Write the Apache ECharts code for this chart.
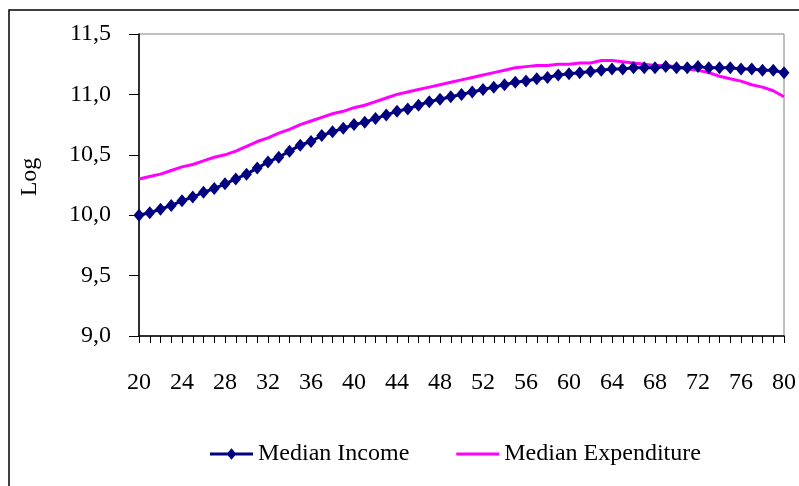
<!DOCTYPE html>
<html>
<head>
<meta charset="utf-8">
<script src="https://cdn.jsdelivr.net/npm/echarts@6/dist/echarts.min.js"></script>
<style>html,body{margin:0;padding:0;background:#fff;}#c{width:799px;height:486px;}</style>
</head>
<body>
<div id="c"></div>
<script>
var ages = [];
for (var a = 20; a <= 80; a++) ages.push(String(a));
var yTicks = ['9,0','9,5','10,0','10,5','11,0','11,5'];
var medianIncome = [
  10.00,10.02,10.05,10.08,10.12,10.15,10.19,10.22,10.26,10.30,
  10.34,10.39,10.44,10.48,10.53,10.58,10.61,10.66,10.69,10.72,
  10.75,10.77,10.80,10.83,10.86,10.88,10.91,10.94,10.96,10.98,
  11.00,11.02,11.04,11.06,11.08,11.10,11.11,11.13,11.14,11.16,
  11.17,11.18,11.19,11.20,11.21,11.21,11.22,11.22,11.22,11.23,
  11.22,11.22,11.23,11.22,11.22,11.22,11.21,11.21,11.20,11.20,
  11.18
];
var medianExpenditure = [
  10.30,10.32,10.34,10.37,10.40,10.42,10.45,10.48,10.50,10.53,
  10.57,10.61,10.64,10.68,10.71,10.75,10.78,10.81,10.84,10.86,
  10.89,10.91,10.94,10.97,11.00,11.02,11.04,11.06,11.08,11.10,
  11.12,11.14,11.16,11.18,11.20,11.22,11.23,11.24,11.24,11.25,
  11.25,11.26,11.26,11.28,11.28,11.27,11.26,11.25,11.24,11.24,
  11.23,11.21,11.20,11.18,11.15,11.13,11.11,11.08,11.06,11.03,
  10.98
];
var FONT = 'Liberation Serif';
var chart = echarts.init(document.getElementById('c'));
chart.setOption({
  animation: false,
  backgroundColor: '#fff',
  graphic: [
    {type: 'rect', shape: {x: 9, y: 10, width: 900, height: 600}, style: {fill: 'none', stroke: '#000', lineWidth: 1.5}, z: 100},
    {type: 'text', x: 30, y: 177, rotation: Math.PI / 2, style: {text: 'Log', font: '24px "Liberation Serif"', fill: '#000', align: 'center', verticalAlign: 'middle'}}
  ],
  grid: {left: 139, right: 11, top: 34, bottom: 150, show: true, borderColor: '#808080', borderWidth: 1},
  legend: {
    left: 205, top: 437, itemWidth: 43, itemHeight: 12, itemGap: 47,
    textStyle: {fontFamily: FONT, fontSize: 24, color: '#000'},
    data: [
      {name: 'Median Income', icon: 'path://M0,4.5H44V7.5H0Z M22,0L27,6L22,12L17,6Z'},
      {name: 'Median Expenditure', icon: 'path://M0,0L0.01,0L0,0.01Z M0,4.5H44V7.5H0Z M0,12L0.01,12L0,11.99Z'}
    ]
  },
  xAxis: {
    type: 'category', data: ages, boundaryGap: false,
    axisLine: {lineStyle: {color: '#000', width: 1.5}},
    axisTick: {interval: 0, length: 7, lineStyle: {color: '#000'}},
    axisLabel: {interval: 3, margin: 35, fontFamily: FONT, fontSize: 24, color: '#000'},
    splitLine: {show: false}
  },
  yAxis: {
    type: 'value', min: 9, max: 11.5, interval: 0.5,
    axisLine: {show: true, lineStyle: {color: '#000', width: 1.5}},
    axisTick: {show: true, length: 10, lineStyle: {color: '#000'}},
    axisLabel: {margin: 28, fontFamily: FONT, fontSize: 24, color: '#000',
      formatter: function (v) { return yTicks[Math.round((v - 9) / 0.5)]; }},
    splitLine: {show: false}
  },
  series: [
    {name: 'Median Expenditure', type: 'line', data: medianExpenditure, showSymbol: false, symbol: 'none',
      lineStyle: {color: '#FF00FF', width: 3}, itemStyle: {color: '#FF00FF'}, z: 2},
    {name: 'Median Income', type: 'line', data: medianIncome, symbol: 'diamond', symbolSize: [11, 13], showSymbol: true, showAllSymbol: true,
      lineStyle: {color: '#000080', width: 3}, itemStyle: {color: '#000080'}, z: 3}
  ]
});
</script>
</body>
</html>
